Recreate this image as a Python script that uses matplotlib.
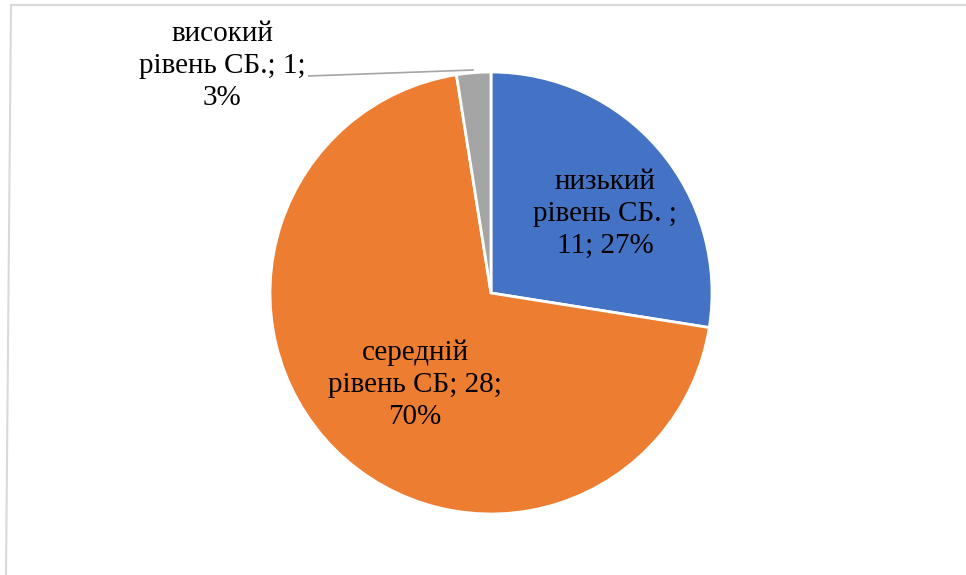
import matplotlib.pyplot as plt
from matplotlib.lines import Line2D

values = [11, 28, 1]
percents = ["27%", "70%", "3%"]
colors = ["#4472C4", "#ED7D31", "#A5A5A5"]

plt.rcParams['font.family'] = ['Liberation Serif', 'DejaVu Serif']

fig = plt.figure(figsize=(9.66, 5.75), dpi=100)
ax = fig.add_axes([0, 0, 1, 1])

# pie centre at px (491, 293), radius 221 px
r_px = 221
ax.pie(values, colors=colors, startangle=90, counterclock=False, radius=1,
       wedgeprops=dict(edgecolor="white", linewidth=2))
ax.set_xlim(-491 / r_px, (966 - 491) / r_px)
ax.set_ylim(-(575 - 293) / r_px, 293 / r_px)
ax.axis("off")

labels = [
    f"низький\nрівень СБ. ;\n{values[0]}; {percents[0]}",
    f"середній\nрівень СБ; {values[1]};\n{percents[1]}",
    f"високий\nрівень СБ.; {values[2]};\n{percents[2]}",
]

fs = 21
ls = 1.3
ax.text(0.516, 0.357, labels[0], ha="center", va="center", fontsize=fs,
        linespacing=ls)
ax.text(-0.344, -0.417, labels[1], ha="center", va="center", fontsize=fs,
        linespacing=ls)
ax.text(-1.217, 1.025, labels[2], ha="center", va="center", fontsize=fs,
        linespacing=ls)
ax.plot([-0.824, -0.081], [0.982, 1.009], color="#A6A6A6", lw=1.2)

# chart frame (only top and left edges visible)
fig.add_artist(Line2D([11 / 966, 1], [1 - 5 / 575, 1 - 5 / 575], color="#D9D9D9", lw=1.5))
fig.add_artist(Line2D([11 / 966, 6 / 966], [1 - 5 / 575, 0], color="#D9D9D9", lw=1.5))

fig.savefig("out.png", dpi=100)
